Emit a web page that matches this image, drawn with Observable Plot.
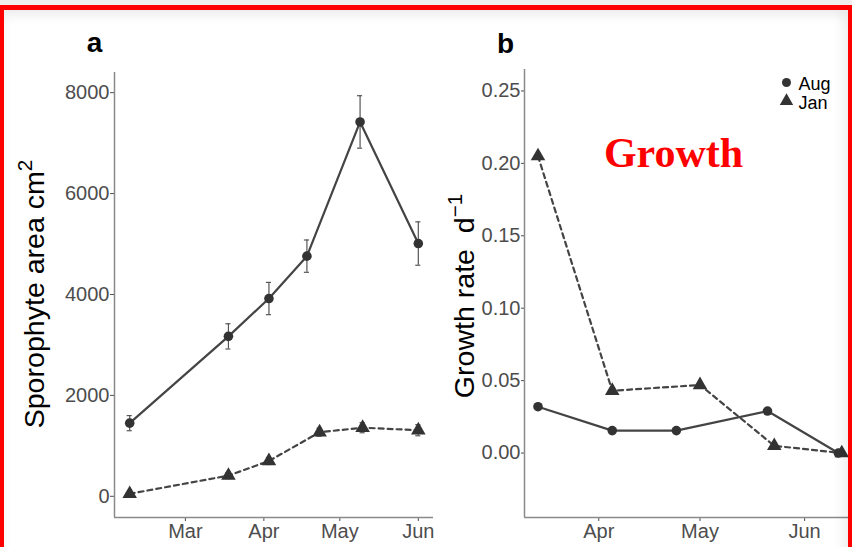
<!DOCTYPE html>
<html>
<head>
<meta charset="utf-8">
<script src="https://cdn.jsdelivr.net/npm/d3@7"></script>
<script src="https://cdn.jsdelivr.net/npm/@observablehq/plot@0.6"></script>
<style>
  body { margin: 0; background: #efefef; }
  #wrap { position: relative; width: 852px; height: 547px; overflow: hidden; background: #efefef;
          font-family: "Liberation Sans", Arial, sans-serif; }
  #sheet { position: absolute; left: 0; top: 5px; width: 852px; height: 600px; background: #fff; }
  .panel { position: absolute; top: 0; }
  .panel svg { overflow: visible; }
  #border { position: absolute; left: 0; top: 5px; width: 852px; height: 600px; box-sizing: border-box;
            border: 5px solid #ff0000; border-left-width: 4px; border-right-width: 4px;
            box-shadow: inset 0 8px 10px rgba(0,0,0,0.05), inset -8px 0 10px rgba(0,0,0,0.04);
            pointer-events: none; }
  .ytitle { position: absolute; font-size: 28px; line-height: 28px; white-space: nowrap; color: #000;
            transform: translate(-50%, -50%) rotate(-90deg) scaleX(1.02); }
  .ytitle sup { font-size: 0.72em; line-height: 0; vertical-align: 0.62em; }
</style>
</head>
<body>
<div id="wrap">
  <div id="sheet"></div>
  <div class="panel" id="panelA" style="left:0;width:440px"></div>
  <div class="panel" id="panelB" style="left:440px;width:412px"></div>
  <div class="ytitle" style="left:34.5px;top:294px">Sporophyte area cm<sup>2</sup></div>
  <div class="ytitle" style="left:465px;top:295.5px">Growth rate&nbsp; d<sup>−1</sup></div>
  <div id="border"></div>
</div>
<script>
// ---- Panel a: sporophyte area (cm²), mean ± error ----
const areaDatesAug = ["2017-02-07", "2017-03-18", "2017-04-03", "2017-04-18", "2017-05-09", "2017-06-01"];
const areaAug      = [1450, 3170, 3920, 4760, 7420, 5010];
const areaAugErr   = [150, 250, 320, 320, 520, 430];

const areaDatesJan = ["2017-02-07", "2017-03-18", "2017-04-03", "2017-04-23", "2017-05-10", "2017-06-01"];
const areaJan      = [50, 410, 700, 1270, 1360, 1310];
const areaJanErr   = [40, 60, 70, 80, 100, 110];

const areaTicks    = [0, 2000, 4000, 6000, 8000];
const areaMonths   = ["2017-03-01", "2017-04-01", "2017-05-01", "2017-06-01"];

// ---- Panel b: growth rate (d⁻¹) ----
const rateDatesAug = ["2017-03-14", "2017-04-05", "2017-04-24", "2017-05-21", "2017-06-11"];
const rateAug      = [0.032, 0.0155, 0.0155, 0.029, 0.0];

const rateDatesJan = ["2017-03-14", "2017-04-05", "2017-05-01", "2017-05-23", "2017-06-12"];
const rateJan      = [0.205, 0.043, 0.047, 0.005, 0.0];

const rateTicks    = [0, 0.05, 0.10, 0.15, 0.20, 0.25];
const rateMonths   = ["2017-04-01", "2017-05-01", "2017-06-01"];

const seriesNames  = ["Aug", "Jan"];
const panelNames   = ["a", "b"];
const annotation   = "Growth";

const parse = d3.utcParse("%Y-%m-%d");
const rows = (dates, vals, errs) => dates.map((d, i) => ({date: parse(d), value: vals[i], err: errs ? errs[i] : 0}));

const augA = rows(areaDatesAug, areaAug, areaAugErr);
const janA = rows(areaDatesJan, areaJan, areaJanErr);
const augB = rows(rateDatesAug, rateAug);
const janB = rows(rateDatesJan, rateJan);

const xDomA = [parse("2017-02-01"), parse("2017-06-07")];
const yDomA = [-420, 8400];
const xDomB = [parse("2017-03-10"), parse("2017-06-14")];
const yDomB = [-0.0445, 0.2648];

const ink = "#333";
const lineInk = "#444";
const axisInk = "#8a8a8a";
const dash = "5,4";

const baseStyle = {fontFamily: "Liberation Sans, Arial, sans-serif", fontSize: "20px", color: "#4d4d4d", background: "transparent", overflow: "visible"};

// whisker caps span one day either side of the sampling date
const capX1 = d => d3.utcDay.offset(d.date, -1);
const capX2 = d => d3.utcDay.offset(d.date, 1);

const errorMarks = data => [
  Plot.ruleX(data, {x: "date", y1: d => d.value - d.err, y2: d => d.value + d.err, stroke: "#555", strokeWidth: 1.2}),
  Plot.ruleY(data, {y: d => d.value + d.err, x1: capX1, x2: capX2, stroke: "#555", strokeWidth: 1.2}),
  Plot.ruleY(data, {y: d => d.value - d.err, x1: capX1, x2: capX2, stroke: "#555", strokeWidth: 1.2})
];

const label = (name, dx, dy) =>
  Plot.text([name], {frameAnchor: "top-left", text: d => d, dx, dy, textAnchor: "middle", lineAnchor: "middle",
    fontSize: 28, fontWeight: "bold", fill: "#000"});

const plotA = Plot.plot({
  width: 440, height: 547,
  marginLeft: 114, marginRight: 7, marginTop: 72, marginBottom: 30,
  style: baseStyle,
  x: {type: "utc", domain: xDomA, ticks: areaMonths.map(parse), tickFormat: d3.utcFormat("%b"), label: null, tickSize: 4, tickPadding: 2},
  y: {domain: yDomA, ticks: areaTicks, tickFormat: d3.format("d"), label: null, tickSize: 4, tickPadding: 1},
  marks: [
    Plot.ruleX([xDomA[0]], {stroke: axisInk, strokeWidth: 1.5}),
    Plot.ruleY([yDomA[0]], {stroke: axisInk, strokeWidth: 1.5}),
    ...errorMarks(augA),
    ...errorMarks(janA),
    Plot.line(augA, {x: "date", y: "value", stroke: lineInk, strokeWidth: 2.2}),
    Plot.line(janA, {x: "date", y: "value", stroke: lineInk, strokeWidth: 2.2, strokeDasharray: dash}),
    Plot.dot(augA, {x: "date", y: "value", symbol: "circle", r: 4.8, fill: ink}),
    Plot.dot(janA, {x: "date", y: "value", symbol: "triangle", r: 5.4, fill: ink}),
    label(panelNames[0], -20, -29)
  ]
});
document.getElementById("panelA").append(plotA);

const plotB = Plot.plot({
  width: 412, height: 547,
  marginLeft: 84, marginRight: 4, marginTop: 69, marginBottom: 30,
  style: baseStyle,
  x: {type: "utc", domain: xDomB, ticks: rateMonths.map(parse), tickFormat: d3.utcFormat("%b"), label: null, tickSize: 4, tickPadding: 2},
  y: {domain: yDomB, ticks: rateTicks, tickFormat: d3.format(".2f"), label: null, tickSize: 3, tickPadding: 1},
  marks: [
    Plot.ruleX([xDomB[0]], {stroke: axisInk, strokeWidth: 1.5}),
    Plot.ruleY([yDomB[0]], {stroke: axisInk, strokeWidth: 1.5}),
    Plot.line(augB, {x: "date", y: "value", stroke: lineInk, strokeWidth: 2.2}),
    Plot.line(janB, {x: "date", y: "value", stroke: lineInk, strokeWidth: 2.2, strokeDasharray: dash}),
    Plot.dot(augB, {x: "date", y: "value", symbol: "circle", r: 4.8, fill: ink}),
    Plot.dot(janB, {x: "date", y: "value", symbol: "triangle", r: 5.4, fill: ink}),
    label(panelNames[1], -19, -25),
    // legend
    Plot.dot([seriesNames[0]], {frameAnchor: "top-right", dx: -62, dy: 13, symbol: "circle", r: 4.5, fill: ink}),
    Plot.dot([seriesNames[1]], {frameAnchor: "top-right", dx: -62, dy: 31.5, symbol: "triangle", r: 5, fill: ink}),
    Plot.text([seriesNames[0]], {frameAnchor: "top-right", text: d => d, dx: -50, dy: 14.6, textAnchor: "start", lineAnchor: "middle", fontSize: 18, fill: "#000"}),
    Plot.text([seriesNames[1]], {frameAnchor: "top-right", text: d => d, dx: -50, dy: 34, textAnchor: "start", lineAnchor: "middle", fontSize: 18, fill: "#000"}),
    // annotation
    Plot.text([annotation], {frameAnchor: "top-left", text: d => d, dx: 149, dy: 84.3, textAnchor: "middle", lineAnchor: "middle",
      fontFamily: "Liberation Serif, Times New Roman, serif", fontWeight: "bold", fontSize: 42, fill: "#ff0000"})
  ]
});
document.getElementById("panelB").append(plotB);
</script>
</body>
</html>
